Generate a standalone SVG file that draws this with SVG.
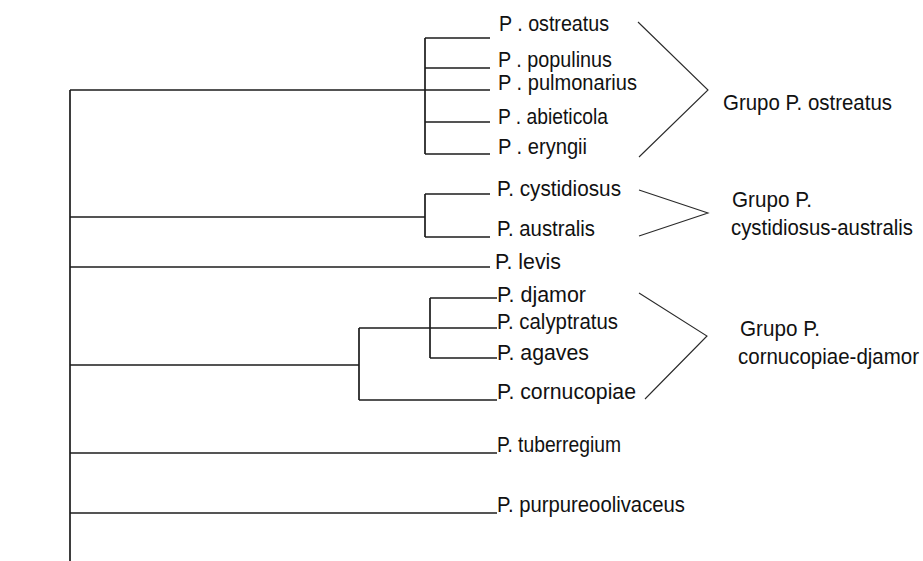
<svg xmlns="http://www.w3.org/2000/svg" width="923" height="561" viewBox="0 0 923 561">
<style>
.t{font-family:"Liberation Sans",Arial,sans-serif;font-size:19.5px;fill:#111}
.br{stroke:#1c1c1c;stroke-width:1.7;fill:none}
.gr{stroke:#2a2a2a;stroke-width:1.1;fill:none}
</style>
<rect width="923" height="561" fill="#fff"/>
<g id="connectors">
<path class="br" d="M70 90V561"/>
<path class="br" d="M70 90H425M425 38V154M425 38H490M425 68H490M425 90H490M425 122H490M425 154H490"/>
<path class="br" d="M70 217H425M425 194V237M425 194H490M425 237H490"/>
<path class="br" d="M70 267H490"/>
<path class="br" d="M70 365H359M359 328V400M359 328H497M359 400H497M430 298V358M430 298H497M430 358H497"/>
<path class="br" d="M70 453H497"/>
<path class="br" d="M70 513H497"/>
<path class="gr" d="M638 22L708 90L639 157"/>
<path class="gr" d="M639 190L708 213L639 236"/>
<path class="gr" d="M639 293L707 336L645 399"/>
</g>
<g id="n-ostreatus"><text class="t" transform="matrix(1 0 0 1.14 499 31)" textLength="110" lengthAdjust="spacingAndGlyphs">P . ostreatus</text></g>
<g id="n-populinus"><text class="t" transform="matrix(1 0 0 1.14 498 67)" textLength="114" lengthAdjust="spacingAndGlyphs">P . populinus</text></g>
<g id="n-pulmonarius"><text class="t" transform="matrix(1 0 0 1.14 498 90)" textLength="139" lengthAdjust="spacingAndGlyphs">P . pulmonarius</text></g>
<g id="n-abieticola"><text class="t" transform="matrix(1 0 0 1.14 498 124)" textLength="110" lengthAdjust="spacingAndGlyphs">P . abieticola</text></g>
<g id="n-eryngii"><text class="t" transform="matrix(1 0 0 1.14 498 154)" textLength="89" lengthAdjust="spacingAndGlyphs">P . eryngii</text></g>
<g id="n-cystidiosus"><text class="t" transform="matrix(1 0 0 1.14 497 196)" textLength="124" lengthAdjust="spacingAndGlyphs">P. cystidiosus</text></g>
<g id="n-australis"><text class="t" transform="matrix(1 0 0 1.14 497 236)" textLength="98" lengthAdjust="spacingAndGlyphs">P. australis</text></g>
<g id="n-levis"><text class="t" transform="matrix(1 0 0 1.14 495 269)" textLength="66" lengthAdjust="spacingAndGlyphs">P. levis</text></g>
<g id="n-djamor"><text class="t" transform="matrix(1 0 0 1.14 497 302)" textLength="89" lengthAdjust="spacingAndGlyphs">P. djamor</text></g>
<g id="n-calyptratus"><text class="t" transform="matrix(1 0 0 1.14 497 329)" textLength="121" lengthAdjust="spacingAndGlyphs">P. calyptratus</text></g>
<g id="n-agaves"><text class="t" transform="matrix(1 0 0 1.14 497 360)" textLength="92" lengthAdjust="spacingAndGlyphs">P. agaves</text></g>
<g id="n-cornucopiae"><text class="t" transform="matrix(1 0 0 1.14 497 399)" textLength="139" lengthAdjust="spacingAndGlyphs">P. cornucopiae</text></g>
<g id="n-tuberregium"><text class="t" transform="matrix(1 0 0 1.14 497 452)" textLength="124" lengthAdjust="spacingAndGlyphs">P. tuberregium</text></g>
<g id="n-purpureoolivaceus"><text class="t" transform="matrix(1 0 0 1.14 497 512)" textLength="188" lengthAdjust="spacingAndGlyphs">P. purpureoolivaceus</text></g>
<g id="g-ostreatus"><text class="t" transform="matrix(1 0 0 1.14 723 110)" textLength="169" lengthAdjust="spacingAndGlyphs">Grupo P. ostreatus</text></g>
<g id="g-cystidiosus"><text class="t" transform="matrix(1 0 0 1.14 732 207)" textLength="80" lengthAdjust="spacingAndGlyphs">Grupo P.</text><text class="t" transform="matrix(1 0 0 1.14 731 235)" textLength="182" lengthAdjust="spacingAndGlyphs">cystidiosus-australis</text></g>
<g id="g-cornucopiae"><text class="t" transform="matrix(1 0 0 1.14 740 336)" textLength="80" lengthAdjust="spacingAndGlyphs">Grupo P.</text><text class="t" transform="matrix(1 0 0 1.14 738 364)" textLength="181" lengthAdjust="spacingAndGlyphs">cornucopiae-djamor</text></g>
</svg>
